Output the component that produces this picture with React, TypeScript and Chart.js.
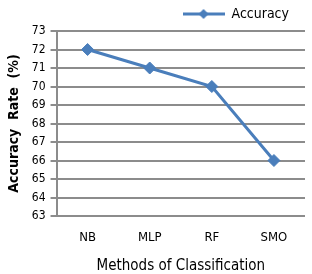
import React, { useEffect, useRef } from "react";
import { Chart, registerables } from "chart.js";

Chart.register(...registerables);

const categories = ["NB", "MLP", "RF", "SMO"];
const accuracy = [72, 71, 70, 66];
const yMin = 63;
const yMax = 73;

const FONT = "'Liberation Sans Narrow', 'DejaVu Sans Condensed', 'Liberation Sans', Arial, sans-serif";
const BLUE = "#4A7EBB";

function makeLegendIcon(): HTMLCanvasElement {
  const c = document.createElement("canvas");
  c.width = 42;
  c.height = 12;
  const ctx = c.getContext("2d")!;
  ctx.strokeStyle = BLUE;
  ctx.lineWidth = 3;
  ctx.beginPath();
  ctx.moveTo(0, 6);
  ctx.lineTo(42, 6);
  ctx.stroke();
  ctx.fillStyle = BLUE;
  ctx.beginPath();
  ctx.moveTo(21, 1);
  ctx.lineTo(26, 6);
  ctx.lineTo(21, 11);
  ctx.lineTo(16, 6);
  ctx.closePath();
  ctx.fill();
  return c;
}

export default function App() {
  const ref = useRef<HTMLCanvasElement>(null);
  useEffect(() => {
    document.body.style.margin = "0";
    const icon = makeLegendIcon();
    const chart = new Chart(ref.current!, {
      type: "line",
      data: {
        labels: categories,
        datasets: [
          {
            label: "Accuracy",
            data: accuracy,
            borderColor: BLUE,
            backgroundColor: BLUE,
            borderWidth: 3,
            pointStyle: "rectRot",
            pointRadius: 6,
            pointBorderWidth: 1,
            tension: 0,
          },
        ],
      },
      options: {
        animation: false,
        responsive: false,
        maintainAspectRatio: false,
        layout: { padding: { left: 6, right: 6, top: -10, bottom: 0 } },
        plugins: {
          legend: {
            display: true,
            position: "top",
            align: "end",
            labels: {
              usePointStyle: true,
              pointStyle: icon as any,
              pointStyleWidth: 42,
              color: "#000",
              font: { family: FONT, size: 14 },
              padding: 17,
              generateLabels: () => [
                {
                  text: "Accuracy",
                  pointStyle: icon as any,
                  fillStyle: BLUE,
                  strokeStyle: BLUE,
                  lineWidth: 0,
                  hidden: false,
                  datasetIndex: 0,
                },
              ],
            },
          },
          tooltip: { enabled: false },
        },
        scales: {
          x: {
            offset: true,
            grid: { display: false, drawTicks: false },
            border: { display: false },
            ticks: {
              autoSkip: false,
              color: "#000",
              font: { family: FONT, size: 13, lineHeight: 1 },
              padding: 15,
            },
            title: {
              display: true,
              text: "Methods of Classification",
              color: "#000",
              font: { family: FONT, size: 15, lineHeight: 1 },
              padding: { top: 0, bottom: 0 },
            },
          },
          y: {
            min: yMin,
            max: yMax,
            ticks: {
              stepSize: 1,
              autoSkip: false,
              color: "#000",
              font: { family: FONT, size: 12 },
              padding: 5,
            },
            grid: {
              color: "#8c8c8c",
              lineWidth: 2,
              tickLength: 6,
            },
            border: { display: true, color: "#8c8c8c", width: 2 },
            title: {
              display: true,
              text: "Accuracy  Rate  (%)",
              color: "#000",
              font: { family: FONT, size: 14, weight: "bold" },
              padding: { top: 0, bottom: 4 },
            },
          },
        },
      },
    });
    return () => chart.destroy();
  }, []);
  return (
    <div style={{ width: 312, height: 274 }}>
      <canvas ref={ref} width={312} height={274} style={{ width: 312, height: 274 }} />
    </div>
  );
}
